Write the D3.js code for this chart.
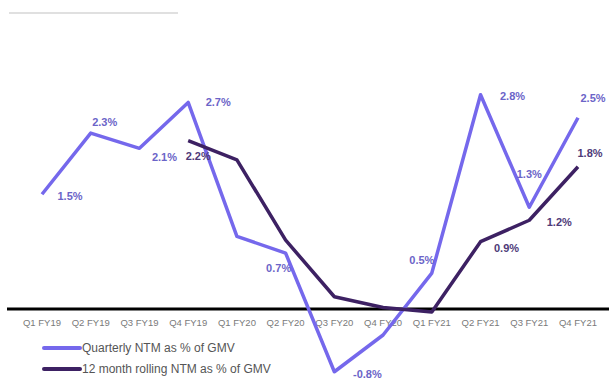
<!DOCTYPE html>
<html>
<head>
<meta charset="utf-8">
<script src="https://cdn.jsdelivr.net/npm/d3@7"></script>
<style>
    body { margin: 0; background: #fff; }
    svg { display: block; font-family: "Liberation Sans", Arial, sans-serif; }
    .tick_label { fill: #7a7a7a; font-size: 9.5px; }
    .legend { fill: #555; font-size: 12px; }
    .val { font-size: 11px; font-weight: bold; }
</style>
</head>
<body>
<div id="chart"></div>
<script>
// data
let quarters = ["Q1 FY19", "Q2 FY19", "Q3 FY19", "Q4 FY19", "Q1 FY20", "Q2 FY20",
                "Q3 FY20", "Q4 FY20", "Q1 FY21", "Q2 FY21", "Q3 FY21", "Q4 FY21"];
let quarterly = [1.5, 2.3, 2.1, 2.7, 0.95, 0.73, -0.82, -0.34, 0.47, 2.8, 1.33, 2.5];
let rolling = [null, null, null, 2.2, 1.95, 0.9, 0.16, 0.02, -0.04, 0.88, 1.16, 1.86];
let quarterly_labels = ["1.5%", "2.3%", "2.1%", "2.7%", null, "0.7%", "-0.8%", null, "0.5%", "2.8%", "1.3%", "2.5%"];
let rolling_labels = [null, null, null, "2.2%", null, null, null, null, null, "0.9%", "1.2%", "1.8%"];
let series_names = ["Quarterly NTM as % of GMV", "12 month rolling NTM as % of GMV"];

// where each value label sits relative to its point
let q_offsets = [[28, 2], [14, -11], [25, 9], [30, 0], [0, 0], [-7, 15], [33, 2], [0, 0], [-10, -13], [32, 1], [0, -33], [15, -20]];
let r_offsets = [[0, 0], [0, 0], [0, 0], [10, 15], [0, 0], [0, 0], [0, 0], [0, 0], [0, 0], [26, 6], [30, 2], [12, -14]];

let width = 609, height = 379;
let light = "#7568ec", dark = "#3d2163";

let svg = d3.select("#chart")
    .append("svg")
    .attr("width", width)
    .attr("height", height);

let xScale = d3.scalePoint()
    .domain(quarters)
    .range([42, 578]);

let yScale = d3.scaleLinear()
    .domain([-1, 3])
    .range([385.5, 79.5]);

// rule under the (cropped) title
svg.append("line")
    .attr("x1", 9).attr("x2", 178)
    .attr("y1", 13).attr("y2", 13)
    .attr("stroke", "#d6d6d6")
    .attr("stroke-width", 1.5);

// zero line + category labels
svg.append("line")
    .attr("x1", 7).attr("x2", width)
    .attr("y1", yScale(0)).attr("y2", yScale(0))
    .attr("stroke", "#000")
    .attr("stroke-width", 3);

svg.selectAll(".tick_label")
    .data(quarters)
    .enter()
    .append("text")
    .attr("class", "tick_label")
    .attr("x", d => xScale(d))
    .attr("y", 326)
    .attr("text-anchor", "middle")
    .text(d => d);

let line = d3.line()
    .defined(d => d[1] != null)
    .x(d => xScale(d[0]))
    .y(d => yScale(d[1]));

svg.append("path")
    .datum(quarters.map((q, i) => [q, quarterly[i]]))
    .attr("d", line)
    .attr("fill", "none")
    .attr("stroke", light)
    .attr("stroke-width", 3.5)
    .attr("stroke-linejoin", "round");

svg.append("path")
    .datum(quarters.map((q, i) => [q, rolling[i]]))
    .attr("d", line)
    .attr("fill", "none")
    .attr("stroke", dark)
    .attr("stroke-width", 3.5)
    .attr("stroke-linejoin", "round");

function add_labels(values, labels, offsets, color) {
    svg.append("g")
        .selectAll("text")
        .data(quarters.filter((q, i) => labels[i] != null).map(q => quarters.indexOf(q)))
        .enter()
        .append("text")
        .attr("class", "val")
        .attr("x", i => xScale(quarters[i]) + offsets[i][0])
        .attr("y", i => yScale(values[i]) + offsets[i][1])
        .attr("dy", "0.35em")
        .attr("text-anchor", "middle")
        .style("fill", color)
        .text(i => labels[i]);
}

add_labels(quarterly, quarterly_labels, q_offsets, "#6b64c8");
add_labels(rolling, rolling_labels, r_offsets, "#4e3a78");

// legend
let legend = svg.append("g");
[light, dark].forEach((c, i) => {
    legend.append("line")
        .attr("x1", 44).attr("x2", 80)
        .attr("y1", 348 + i * 21).attr("y2", 348 + i * 21)
        .attr("stroke", c)
        .attr("stroke-width", 4)
        .attr("stroke-linecap", "round");
    legend.append("text")
        .attr("class", "legend")
        .attr("x", 82)
        .attr("y", 352 + i * 21)
        .text(series_names[i]);
});
</script>
</body>
</html>
